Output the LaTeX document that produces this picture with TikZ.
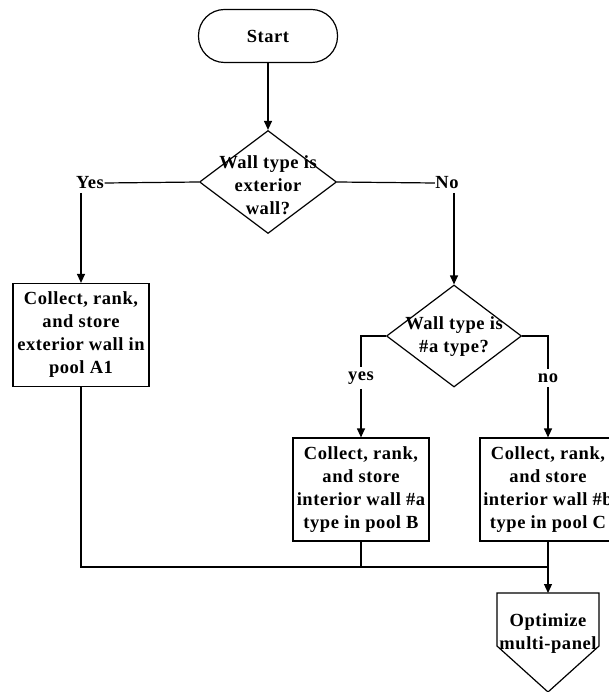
\documentclass[tikz,border=0pt]{standalone}
\usepackage{fontspec}
\setmainfont[LetterSpace=3]{Liberation Serif}
\usetikzlibrary{shapes.geometric,arrows.meta}
\begin{document}
\begin{tikzpicture}[x=1pt,y=-1pt,
  every path/.style={line width=1.2pt},
  lbl/.style={font=\fontsize{18.5}{23}\selectfont\bfseries, align=center, inner sep=0pt},
  procbox/.style={draw, rectangle, minimum width=136pt, minimum height=103pt, inner sep=0pt,
                  font=\fontsize{18.5}{23}\selectfont\bfseries, align=center},
  decide/.style={draw, diamond, minimum width=137pt, minimum height=103pt, inner sep=0pt},
  terminal/.style={draw, rectangle, rounded corners=26pt, minimum width=139pt, minimum height=53pt,
                   font=\fontsize{18.5}{23}\selectfont\bfseries},
  arr/.style={-{Triangle[length=9pt,width=8pt]}}
]
\useasboundingbox (0,0) rectangle (608,692);

% nodes
\node[terminal] (start) at (268,36) {Start};
\node[decide] (d1) at (268,182) {};
\node[lbl] (d1t) at (268,185) {Wall type is\\exterior\\wall?};
\node[procbox] (A1) at (81,335) {Collect, rank,\\and store\\exterior wall in\\pool A1};
\node[decide, minimum width=135pt, minimum height=102pt] (d2) at (454,336) {};
\node[lbl] (d2t) at (454,337) {Wall type is\\\#a type?};
\node[procbox] (B) at (361,489.5) {Collect, rank,\\and store\\interior wall \#a\\type in pool B};
\node[procbox] (C) at (548,489.5) {Collect, rank,\\and store\\interior wall \#b\\type in pool C};

% branch labels
\node[lbl] (yes) at (90,183) {Yes};
\node[lbl] (no) at (447,183) {No};
\node[lbl, inner ysep=4pt] (yes2) at (361,378) {yes};
\node[lbl, inner ysep=4pt] (no2) at (548,378) {no};

% off-page connector
\coordinate (opttop) at (548,593);
\draw (497,593) -- (599,593) -- (599,646) -- (548,692) -- (497,646) -- cycle;
\node[lbl] (opt) at (548,634) {Optimize\\multi-panel};

% connectors
\draw[arr] (start) -- (d1);
\draw (d1.west) -- (yes.east);
\draw[arr] (A1.north |- 0,193) -- (A1.north);
\draw (d1.east) -- (no.west);
\draw[arr] (d2.north |- 0,193) -- (d2.north);
\draw (d2.west) -| (yes2.north);
\draw[arr] (yes2.south) -- (B.north);
\draw (d2.east) -| (no2.north);
\draw[arr] (no2.south) -- (C.north);

\coordinate (merge) at (548,567);
\draw (A1.south) |- (merge);
\draw (B.south) -- (B.south |- merge);
\draw (C.south) -- (merge);
\draw[arr] (merge) -- (opttop);
\end{tikzpicture}
\end{document}
